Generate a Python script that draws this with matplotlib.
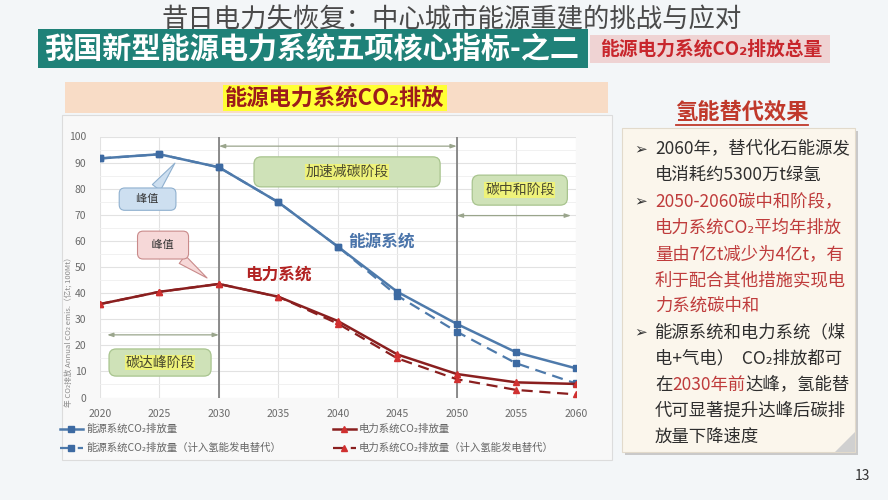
import matplotlib
matplotlib.use('Agg')
import matplotlib.pyplot as plt
from matplotlib.patches import FancyBboxPatch, Rectangle, Polygon
from matplotlib.lines import Line2D

FONT = ['Noto Sans CJK SC', 'DejaVu Sans']
plt.rcParams['font.family'] = FONT

# ---------------- data ----------------
years = [2020, 2025, 2030, 2035, 2040, 2045, 2050, 2055, 2060]
energy = [91.6, 93.2, 88.2, 74.8, 57.8, 40.5, 28.2, 17.3, 11.2]
energy_h2 = [91.6, 93.2, 88.2, 74.8, 57.8, 39.0, 25.2, 13.1, 5.4]
power = [35.8, 40.5, 43.5, 38.6, 29.3, 16.5, 9.0, 5.8, 5.2]
power_h2 = [35.8, 40.5, 43.5, 38.6, 28.3, 15.0, 7.0, 2.9, 1.2]
x_ticks = [2020, 2025, 2030, 2035, 2040, 2045, 2050, 2055, 2060]
y_ticks = [0, 10, 20, 30, 40, 50, 60, 70, 80, 90, 100]
phase_bounds = [2030, 2050]
legend_labels = ['能源系统CO₂排放量', '能源系统CO₂排放量（计入氢能发电替代）',
                 '电力系统CO₂排放量', '电力系统CO₂排放量（计入氢能发电替代）']
phases = ['碳达峰阶段', '加速减碳阶段', '碳中和阶段']

page_title = '昔日电力失恢复：中心城市能源重建的挑战与应对'
banner = '我国新型能源电力系统五项核心指标-之二'
banner_tag = '能源电力系统CO₂排放总量'
section = '能源电力系统CO₂排放'
note_title = '氢能替代效果'
DARK = '#2e2e2e'
RED = '#bf3b3b'
note_lines = [
    [('2060年，替代化石能源发', DARK)],
    [('电消耗约5300万t绿氢', DARK)],
    [('2050-2060碳中和阶段，', RED)],
    [('电力系统CO₂平均年排放', RED)],
    [('量由7亿t减少为4亿t，有', RED)],
    [('利于配合其他措施实现电', RED)],
    [('力系统碳中和', RED)],
    [('能源系统和电力系统（煤', DARK)],
    [('电+气电）  CO₂排放都可', DARK)],
    [('在', DARK), ('2030年前', RED), ('达峰，氢能替', DARK)],
    [('代可显著提升达峰后碳排', DARK)],
    [('放量下降速度', DARK)],
]
bullet_rows = [0, 2, 7]

# ---------------- figure ----------------
W, H = 888, 500
fig = plt.figure(figsize=(W / 100, H / 100), dpi=100)
fig.patch.set_facecolor('#f3f6f8')


def fx(px):
    return px / W


def fy(py):
    return 1 - py / H


def frect(x0, y0, x1, y1, **kw):
    r = Rectangle((fx(x0), fy(y1)), (x1 - x0) / W, (y1 - y0) / H,
                  transform=fig.transFigure, **kw)
    fig.add_artist(r)
    return r


# slide decorations
frect(38, 29, 588, 68, fc='#1f8178', ec='none', zorder=1)
frect(590, 35, 830, 63, fc='#efd3d3', ec='none', zorder=1)
frect(62, 115, 612, 460, fc='#f8f8f8', ec='#dcdcdc', lw=0.8, zorder=0)
frect(65, 82, 608, 113, fc='#f8dcc6', ec='none', zorder=1)

fig.text(fx(452), fy(20), page_title, fontsize=19, color='#4a4a4a',
         fontweight='light', ha='center', va='center', zorder=10)
fig.text(fx(312), fy(48), banner, fontsize=21, color='white',
         fontweight='bold', ha='center', va='center', zorder=5)
fig.text(fx(711), fy(49), banner_tag, fontsize=13.5, color='#c8262c',
         fontweight='bold', ha='center', va='center', zorder=5)
fig.text(fx(335), fy(98), section, fontsize=16, color='#9c1b1b',
         fontweight='bold', ha='center', va='center', zorder=5,
         bbox=dict(boxstyle='square,pad=0.08', fc='#ffff33', ec='none'))

# ---------------- chart ----------------
ax = fig.add_axes([fx(100), fy(397.5), 475.7 / W, 261 / H])
ax.set_facecolor('white')
ax.set_xlim(2020, 2060)
ax.set_ylim(0, 100)
ax.set_xticks(x_ticks)
ax.set_yticks(y_ticks)
ax.set_yticks(range(5, 100, 10), minor=True)
ax.grid(True, which='major', color='#e2e2e2', lw=0.8)
ax.grid(True, which='minor', axis='y', color='#efefef', lw=0.6)
ax.set_axisbelow(True)
for s in ax.spines.values():
    s.set_visible(False)
ax.tick_params(axis='both', which='both', length=0, labelsize=7.5,
               labelcolor='#6a6a6a')
ax.tick_params(axis='x', pad=8)
ax.tick_params(axis='y', pad=10)
fig.text(fx(70), fy(330), '年 CO₂排放 Annual CO₂ emis.（亿t; 100Mt）',
         rotation=90, fontsize=5.5, color='#8a8a8a', ha='center', va='center')

blue = '#4e7aab'
blue_m = '#3d6aa2'
dred = '#8a1f1f'
red_m = '#d03030'

ax.vlines(phase_bounds, 0, 100, color='#7a7a7a', lw=1.2, zorder=2)

l2, = ax.plot(years, energy_h2, color=blue, lw=1.6, ls=(0, (5, 3)),
              marker='s', ms=5, mfc=blue_m, mec=blue_m, zorder=3)
l1, = ax.plot(years, energy, color=blue, lw=1.8, marker='s', ms=5,
              mfc=blue_m, mec=blue_m, zorder=4)
l4, = ax.plot(years, power_h2, color=dred, lw=1.6, ls=(0, (5, 3)),
              marker='^', ms=4, mfc=red_m, mec=red_m, zorder=3)
l3, = ax.plot(years, power, color=dred, lw=1.8, marker='^', ms=4,
              mfc=red_m, mec=red_m, zorder=4)

# phase arrows
arrow_kw = dict(arrowstyle='<|-|>,head_length=0.35,head_width=0.12',
                color='#9aa58c', lw=0.9, shrinkA=0, shrinkB=0)
ax.annotate('', xy=(2020.6, 24), xytext=(2030, 24), arrowprops=arrow_kw)
ax.annotate('', xy=(2030, 96.3), xytext=(2050, 96.3), arrowprops=arrow_kw)
ax.annotate('', xy=(2050, 69.7), xytext=(2059.6, 69.7), arrowprops=arrow_kw)

# phase boxes
aspect = (1 / 2.61) / (1 / 11.89)
for (x0, x1, y0, y1), txt in zip([(2020.76, 2029.34, 8.2, 18.6),
                                  (2032.95, 2048.6, 80.7, 92.2),
                                  (2051.3, 2059.3, 73.7, 85.2)], phases):
    p = FancyBboxPatch((x0, y0), x1 - x0, y1 - y0,
                       boxstyle='round,pad=0,rounding_size=0.6',
                       mutation_aspect=aspect, fc='#cfe2b8', ec='#a8c48e',
                       lw=0.9, zorder=5)
    ax.add_patch(p)
    ax.text((x0 + x1) / 2, (y0 + y1) / 2, txt, fontsize=10, color='#4a4a30',
            ha='center', va='center', zorder=6,
            bbox=dict(boxstyle='square,pad=0.05', fc='#eef27a', ec='none'))

# peak callouts
ax.annotate('\u3000峰值\u3000', xy=(2026.3, 89.8), xytext=(2024.0, 76),
            ha='center', va='center', fontsize=8, color='#333333', zorder=6,
            bbox=dict(boxstyle='round,pad=0.55,rounding_size=0.5',
                      fc='#cddff0', ec='#8fb0cf', lw=0.8),
            arrowprops=dict(arrowstyle='wedge,tail_width=0.9', fc='#cddff0',
                            ec='#8fb0cf', lw=0.8, shrinkA=0, shrinkB=0))
ax.annotate('\u2002峰值\u2002', xy=(2029.0, 45.8), xytext=(2025.3, 58.4),
            ha='center', va='center', fontsize=8, color='#333333', zorder=6,
            bbox=dict(boxstyle='round,pad=0.8,rounding_size=0.5',
                      fc='#f6d8d8', ec='#c98a8a', lw=0.8),
            arrowprops=dict(arrowstyle='wedge,tail_width=0.9', fc='#f6d8d8',
                            ec='#c98a8a', lw=0.8, shrinkA=0, shrinkB=0))

ax.text(2043.65, 59.2, '能源系统', fontsize=12, fontweight='bold',
        color='#4a74aa', ha='center', va='center', zorder=6)
ax.text(2035.0, 46.9, '电力系统', fontsize=12, fontweight='bold',
        color='#b22222', ha='center', va='center', zorder=6)

fig.legend([l1, l2, l3, l4], legend_labels, loc='upper left',
           bbox_to_anchor=(fx(60), fy(424)), ncol=2, frameon=False,
           fontsize=7.5, labelcolor='#666666', handlelength=2.2,
           handletextpad=0.3, columnspacing=5.0, labelspacing=0.85,
           borderaxespad=0, borderpad=0)

# ---------------- note panel ----------------
frect(625, 131, 858, 455, fc='#c9c9c9', ec='none', zorder=1)
frect(622, 128, 855, 452, fc='#fbf6ec', ec='#e2dacb', lw=0.8, zorder=2)
fig.add_artist(Polygon([(fx(855), fy(432)), (fx(855), fy(452)),
                        (fx(835), fy(452))], closed=True,
                       transform=fig.transFigure, fc='#d0d0d0', ec='none',
                       zorder=3))

fig.text(fx(742), fy(112), note_title, fontsize=16, fontweight='bold',
         color='#c0392b', ha='center', va='center', zorder=5)
fig.add_artist(Line2D([fx(676), fx(808)], [fy(125), fy(125)],
                      transform=fig.transFigure, color='#c0392b', lw=1.3))

fig.canvas.draw()
renderer = fig.canvas.get_renderer()
for i, parts in enumerate(note_lines):
    ypx = 149 + 26.2 * i
    if i in bullet_rows:
        fig.text(fx(634), fy(ypx), '➢', fontsize=11, color='#333333',
                 ha='left', va='center', zorder=5, family=['DejaVu Sans'])
    xpx = 655
    for txt, col in parts:
        t = fig.text(fx(xpx), fy(ypx), txt, fontsize=12.5, color=col,
                     ha='left', va='center', zorder=5)
        bb = t.get_window_extent(renderer)
        xpx += bb.width

fig.text(fx(862), fy(476), '13', fontsize=10, color='#333333',
         ha='center', va='center')

fig.savefig('out.png', dpi=100, facecolor=fig.get_facecolor())
